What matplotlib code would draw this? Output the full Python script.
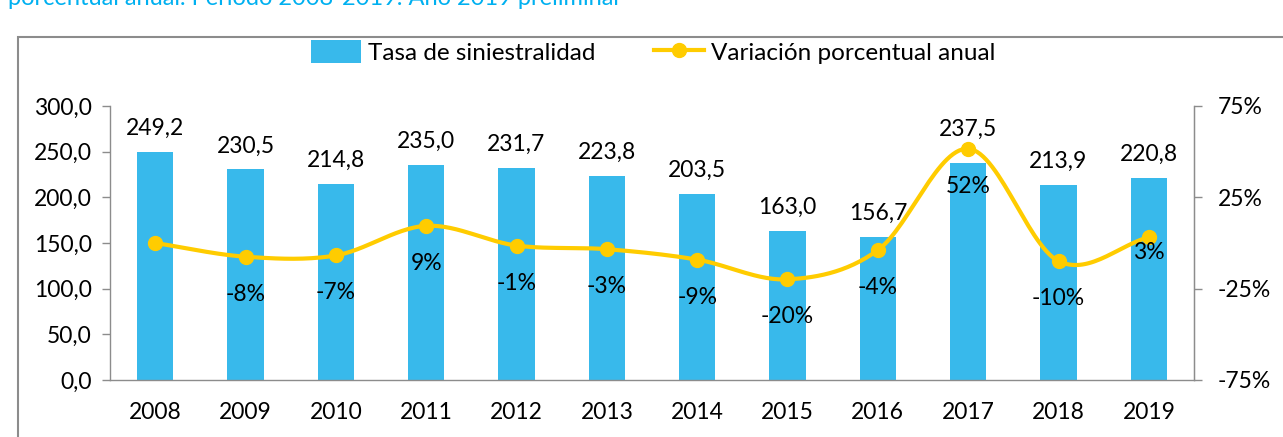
import matplotlib
matplotlib.use("Agg")
import matplotlib.pyplot as plt
from matplotlib.patches import Rectangle
from matplotlib.lines import Line2D
from matplotlib.patches import Patch
import numpy as np

plt.rcParams['font.family'] = ['Lato', 'DejaVu Sans']

# datos
anios = ['2008', '2009', '2010', '2011', '2012', '2013',
         '2014', '2015', '2016', '2017', '2018', '2019']
tasa = [249.2, 230.5, 214.8, 235.0, 231.7, 223.8,
        203.5, 163.0, 156.7, 237.5, 213.9, 220.8]
variacion = [0.0, -7.5, -6.8, 9.4, -1.4, -3.4,
             -9.1, -19.9, -3.9, 51.6, -9.9, 3.2]
etiquetas_var = [None, '-8%', '-7%', '9%', '-1%', '-3%',
                 '-9%', '-20%', '-4%', '52%', '-10%', '3%']

azul = '#38B9EB'
amarillo = '#FFCC00'
gris = '#8C8C8C'
fs = 16.5


def suavizar(xs, ys, n=30):
    # curva tipo Catmull-Rom entre los puntos (como la linea suavizada de Excel)
    xs = np.asarray(xs, float)
    ys = np.asarray(ys, float)
    px = np.concatenate([[2 * xs[0] - xs[1]], xs, [2 * xs[-1] - xs[-2]]])
    py = np.concatenate([[2 * ys[0] - ys[1]], ys, [2 * ys[-1] - ys[-2]]])
    ox, oy = [], []
    for i in range(1, len(px) - 2):
        t = np.linspace(0, 1, n, endpoint=False)
        for p, o in ((px, ox), (py, oy)):
            p0, p1, p2, p3 = p[i - 1], p[i], p[i + 1], p[i + 2]
            o.extend(0.5 * ((2 * p1) + (-p0 + p2) * t +
                            (2 * p0 - 5 * p1 + 4 * p2 - p3) * t ** 2 +
                            (-p0 + 3 * p1 - 3 * p2 + p3) * t ** 3))
    ox.append(xs[-1])
    oy.append(ys[-1])
    return ox, oy


fig = plt.figure(figsize=(12.83, 4.37), dpi=100)

# marco del grafico
fig.patches.append(Rectangle((18 / 1283, -0.01), 1.0, (437 - 37) / 437 + 0.01,
                             transform=fig.transFigure, fill=False,
                             edgecolor=gris, linewidth=1.5))
# titulo (cortado arriba, como en el original)
fig.text(8 / 1283, 1 - 5 / 437,
         'porcentual anual. Período 2008-2019. Año 2019 preliminar',
         color='#00B0F0', fontsize=17, va='baseline', ha='left')

ax = fig.add_axes([110 / 1283, (437 - 380) / 437,
                   (1194 - 110) / 1283, (380 - 106) / 437])
x = np.arange(len(anios))
ax.bar(x, tasa, width=0.4, color=azul, zorder=2)
ax.set_xlim(-0.5, len(anios) - 0.5)
ax.set_ylim(0, 300)
ax.set_yticks(np.arange(0, 301, 50))
ax.set_yticklabels([f'{v:.1f}'.replace('.', ',') for v in np.arange(0, 301, 50)])
ax.set_xticks(x)
ax.set_xticklabels(anios)
ax.tick_params(axis='x', length=0, pad=16, labelsize=fs)
ax.tick_params(axis='y', length=6, width=1, color=gris, pad=7, labelsize=fs)
ax.spines['top'].set_visible(False)
for s in ['left', 'bottom', 'right']:
    ax.spines[s].set_color(gris)
    ax.spines[s].set_linewidth(1)

for xi, v in zip(x, tasa):
    dy = 24 if anios[xi] == '2017' else 17
    ax.annotate(f'{v:.1f}'.replace('.', ','), (xi, v), xytext=(0, dy),
                textcoords='offset points', ha='center', va='center',
                fontsize=fs)

ax2 = ax.twinx()
ax2.set_ylim(-75, 75)
ax2.set_yticks([-75, -25, 25, 75])
ax2.set_yticklabels(['-75%', '-25%', '25%', '75%'])
ax2.tick_params(axis='y', length=6, width=1, color=gris, pad=11, labelsize=fs)
for s in ['top', 'left', 'bottom']:
    ax2.spines[s].set_visible(False)
ax2.spines['right'].set_color(gris)

cx, cy = suavizar(x, variacion)
ax2.plot(cx, cy, color=amarillo, linewidth=3, zorder=3)
ax2.plot(x, variacion, 'o', color=amarillo, markersize=10, zorder=4)
for xi, v, lab in zip(x, variacion, etiquetas_var):
    if lab is None:
        continue
    dy = -11 if lab == '3%' else -27
    ax2.annotate(lab, (xi, v), xytext=(0, dy), textcoords='offset points',
                 ha='center', va='center', fontsize=fs, zorder=5)

handles = [Patch(facecolor=azul, edgecolor='none'),
           Line2D([0], [0], color=amarillo, linewidth=3, marker='o',
                  markersize=10)]
fig.legend(handles, ['Tasa de siniestralidad', 'Variación porcentual anual'],
           loc='center', bbox_to_anchor=(0.509, 1 - 52 / 437), ncol=2,
           frameon=False, fontsize=17.5, handlelength=2.05, handleheight=1.1,
           columnspacing=2.4, handletextpad=0.3)

fig.savefig('out.png', dpi=100)
